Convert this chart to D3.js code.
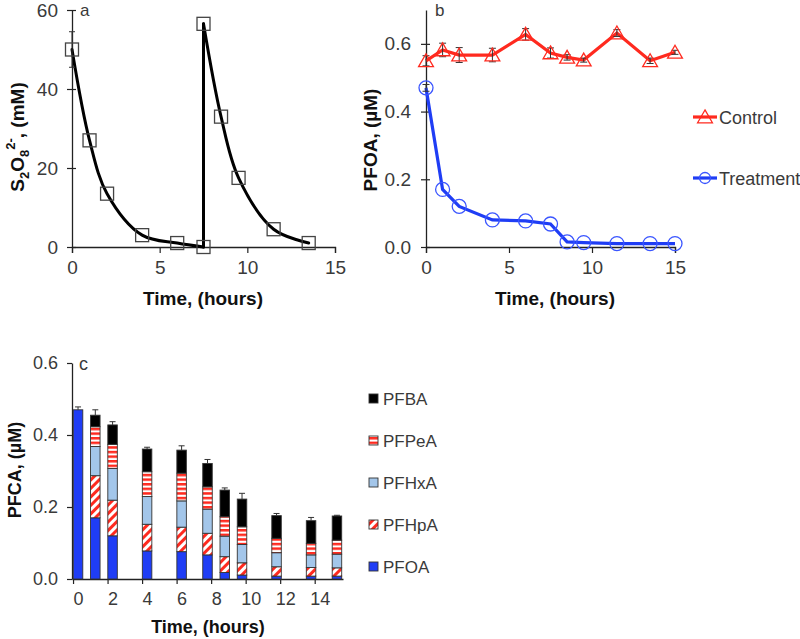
<!DOCTYPE html>
<html><head><meta charset="utf-8">
<script src="https://cdn.jsdelivr.net/npm/d3@7"></script>
<style>
body{margin:0;background:#fff;}
svg{display:block;font-family:"Liberation Sans",Arial,Helvetica,sans-serif;}
.tick text{fill:#3a3a3a;}
</style></head>
<body>
<svg id="chart" width="800" height="639"></svg>
<script>
// ---------- Data ----------
// Panel a: persulfate
const timesA = [0, 1, 2, 4, 6, 7.5, 7.5, 8.5, 9.5, 11.5, 13.5];
const persulfate = [50, 27, 13.5, 3, 1, 0, 56.5, 33, 17.5, 4.5, 1];
const persulfateErr = [4.5, 0, 0, 0, 0, 0, 0, 0, 0, 0, 0];
const ticksA_x = [0, 5, 10, 15];
const ticksA_y = [0, 20, 40, 60];

// Panel b: PFOA control vs treatment
const timesB = [0, 1, 2, 4, 6, 7.5, 8.5, 9.5, 11.5, 13.5, 15];
const control = [0.55, 0.582, 0.567, 0.567, 0.628, 0.573, 0.56, 0.552, 0.632, 0.55, 0.575];
const controlErr = [0.015, 0.02, 0.022, 0.02, 0.017, 0.015, 0.008, 0.006, 0.01, 0.008, 0.006];
const treatment = [0.47, 0.17, 0.12, 0.08, 0.077, 0.068, 0.015, 0.013, 0.01, 0.01, 0.01];
const treatmentErr = [0.01, 0, 0, 0, 0, 0, 0, 0, 0, 0, 0];
const ticksB_x = [0, 5, 10, 15];
const ticksB_y = [0, 0.2, 0.4, 0.6];
const seriesB = ["Control", "Treatment"];

// Panel c: PFCA stacked bars
const timesC = [0, 1, 2, 4, 6, 7.5, 8.5, 9.5, 11.5, 13.5, 15];
const PFOA  = [0.47, 0.170, 0.120, 0.078, 0.076, 0.067, 0.018, 0.011, 0.008, 0.008, 0.008];
const PFHpA = [0, 0.117, 0.099, 0.074, 0.068, 0.060, 0.044, 0.034, 0.026, 0.024, 0.023];
const PFHxA = [0, 0.081, 0.088, 0.077, 0.073, 0.067, 0.057, 0.051, 0.039, 0.035, 0.038];
const PFPeA = [0, 0.055, 0.067, 0.069, 0.077, 0.062, 0.054, 0.049, 0.040, 0.032, 0.039];
const PFBA  = [0, 0.032, 0.054, 0.063, 0.064, 0.065, 0.074, 0.077, 0.063, 0.063, 0.067];
const totalErr = [0.008, 0.015, 0.009, 0.005, 0.012, 0.011, 0.006, 0.016, 0.006, 0.009, 0.002];
const speciesC = ["PFOA", "PFHpA", "PFHxA", "PFPeA", "PFBA"];
const legendOrderC = ["PFBA", "PFPeA", "PFHxA", "PFHpA", "PFOA"];
const ticksC_x = [0, 2, 4, 6, 8, 10, 12, 14];
const ticksC_y = [0, 0.2, 0.4, 0.6];

// ---------- Setup ----------
const svg = d3.select("#chart");
const defs = svg.append("defs");
const RED = "#ff2a1f", BLUE = "#1f3df5";

const pH = defs.append("pattern").attr("id","hstripe").attr("patternUnits","userSpaceOnUse")
  .attr("width",8).attr("height",4.6);
pH.append("rect").attr("width",8).attr("height",4.6).attr("fill","#fff");
pH.append("rect").attr("width",8).attr("height",2.5).attr("fill",RED);

const pD = defs.append("pattern").attr("id","dstripe").attr("patternUnits","userSpaceOnUse")
  .attr("width",6).attr("height",6).attr("patternTransform","rotate(45)");
pD.append("rect").attr("width",6).attr("height",6).attr("fill","#fff");
pD.append("rect").attr("width",3).attr("height",6).attr("fill",RED);

const fills = {PFOA: BLUE, PFHpA: "url(#dstripe)", PFHxA: "#a3c6ea", PFPeA: "url(#hstripe)", PFBA: "#000"};

const TXT = "#3a3a3a";
function styleAxis(g, fs){
  g.selectAll(".domain").attr("stroke","#222").attr("stroke-width",1.3);
  g.selectAll(".tick line").attr("stroke","#222").attr("stroke-width",1.2);
  g.selectAll(".tick text").attr("font-size",fs).attr("fill",TXT);
}

// ---------- Panel a ----------
const xA = d3.scaleLinear().domain([0,15]).range([72,335]);
const yA = d3.scaleLinear().domain([0,60]).range([247,10]);
{
  const gx = svg.append("g").attr("transform","translate(0,247)")
    .call(d3.axisBottom(xA).tickValues(ticksA_x).tickSize(6).tickPadding(8).tickFormat(d3.format("d")));
  styleAxis(gx,19);
  const gy = svg.append("g").attr("transform","translate(72,0)")
    .call(d3.axisLeft(yA).tickValues(ticksA_y).tickSizeInner(4).tickSizeOuter(0).tickPadding(10).tickFormat(d3.format("d")));
  styleAxis(gy,19);
  gy.selectAll(".tick line").attr("x2",4).attr("x1",-5);

  // split into the two dosing periods (time repeats at the re-dose)
  const pts = persulfate.map((v,i)=>[timesA[i], v]);
  const cut = timesA.findIndex((t,i)=> i>0 && t===timesA[i-1]);
  const seg1 = pts.slice(0,cut), seg2 = pts.slice(cut), jump = pts.slice(cut-1,cut+1);
  const smooth = d3.line().x(d=>xA(d[0])).y(d=>yA(d[1])).curve(d3.curveCatmullRom.alpha(0.5));
  const straight = d3.line().x(d=>xA(d[0])).y(d=>yA(d[1]));
  [[seg1,smooth],[jump,straight],[seg2,smooth]].forEach(([s,l])=>
    svg.append("path").datum(s).attr("d",l).attr("fill","none").attr("stroke","#000")
      .attr("stroke-width",3).attr("stroke-linejoin","round").attr("stroke-linecap","round"));
  persulfate.forEach((v,i)=>{
    const e = persulfateErr[i]; if(!e) return;
    const x = xA(timesA[i]);
    svg.append("line").attr("x1",x).attr("x2",x).attr("y1",yA(v-e)).attr("y2",yA(v+e)).attr("stroke","#333").attr("stroke-width",1);
    [v-e,v+e].forEach(w=>svg.append("line").attr("x1",x-3).attr("x2",x+3).attr("y1",yA(w)).attr("y2",yA(w)).attr("stroke","#333"));
  });
  svg.append("g").selectAll("rect").data(persulfate).join("rect")
    .attr("x",(d,i)=>xA(timesA[i])-6.5).attr("y",d=>yA(d)-6.5).attr("width",13).attr("height",13)
    .attr("fill","none").attr("stroke","#444").attr("stroke-width",1.3);

  svg.append("text").attr("x",80).attr("y",16).attr("font-size",17).attr("fill",TXT).text("a");
  const t = svg.append("text").attr("transform","translate(24,137) rotate(-90)").attr("text-anchor","middle")
    .attr("font-size",19).attr("font-weight","bold").attr("fill","#111");
  t.append("tspan").text("S");
  t.append("tspan").attr("font-size",13).attr("dy",5).text("2");
  t.append("tspan").attr("dy",-5).text("O");
  t.append("tspan").attr("font-size",13).attr("dy",5).text("8");
  t.append("tspan").attr("font-size",13).attr("dy",-14).text("2-");
  t.append("tspan").attr("dy",9).text(", (mM)");
  svg.append("text").attr("x",203).attr("y",305).attr("text-anchor","middle").attr("font-size",19)
    .attr("font-weight","bold").attr("fill","#111").text("Time, (hours)");
}

// ---------- Panel b ----------
const xB = d3.scaleLinear().domain([0,15]).range([426,675]);
const yB = d3.scaleLinear().domain([0,0.7]).range([247,10]);
{
  const gx = svg.append("g").attr("transform","translate(0,247)")
    .call(d3.axisBottom(xB).tickValues(ticksB_x).tickSize(6).tickPadding(8).tickFormat(d3.format("d")));
  styleAxis(gx,19);
  const gy = svg.append("g").attr("transform","translate(426,0)")
    .call(d3.axisLeft(yB).tickValues(ticksB_y).tickSizeInner(4).tickSizeOuter(0).tickPadding(11).tickFormat(d3.format(".1f")));
  styleAxis(gy,19);
  gy.selectAll(".tick line").attr("x2",4).attr("x1",-5);

  const lineB = d3.line().x((d,i)=>xB(timesB[i])).y(d=>yB(d));
  const drawErr = (vals, errs) => vals.forEach((v,i)=>{
    const e = errs[i]; if(!e) return;
    const x = xB(timesB[i]);
    svg.append("line").attr("x1",x).attr("x2",x).attr("y1",yB(v-e)).attr("y2",yB(v+e)).attr("stroke","#333").attr("stroke-width",1);
    [v-e,v+e].forEach(w=>svg.append("line").attr("x1",x-3.5).attr("x2",x+3.5).attr("y1",yB(w)).attr("y2",yB(w)).attr("stroke","#333").attr("stroke-width",1));
  });
  svg.append("path").datum(control).attr("d",lineB).attr("fill","none").attr("stroke",RED).attr("stroke-width",3.2);
  svg.append("path").datum(treatment).attr("d",lineB).attr("fill","none").attr("stroke",BLUE).attr("stroke-width",3.2);
  drawErr(control, controlErr);
  drawErr(treatment, treatmentErr);
  const tri = d3.symbol().type(d3.symbolTriangle).size(95);
  svg.append("g").selectAll("path").data(control).join("path")
    .attr("d",tri).attr("transform",(d,i)=>`translate(${xB(timesB[i])},${yB(d)+1.5})`)
    .attr("fill","none").attr("stroke",RED).attr("stroke-width",1.3);
  svg.append("g").selectAll("circle").data(treatment).join("circle")
    .attr("cx",(d,i)=>xB(timesB[i])).attr("cy",d=>yB(d)).attr("r",7)
    .attr("fill","none").attr("stroke","#3a55ff").attr("stroke-width",1.3);

  svg.append("text").attr("x",435).attr("y",16).attr("font-size",17).attr("fill",TXT).text("b");
  svg.append("text").attr("transform","translate(377,140) rotate(-90)").attr("text-anchor","middle")
    .attr("font-size",19).attr("font-weight","bold").attr("fill","#111").text("PFOA, (µM)");
  svg.append("text").attr("x",555).attr("y",305).attr("text-anchor","middle").attr("font-size",19)
    .attr("font-weight","bold").attr("fill","#111").text("Time, (hours)");

  const lg = svg.append("g");
  seriesB.forEach((s,i)=>{
    const y = 117 + i*61;
    const col = i===0 ? RED : BLUE;
    lg.append("line").attr("x1",693).attr("x2",717).attr("y1",y).attr("y2",y).attr("stroke",col).attr("stroke-width",3.2);
    if(i===0) lg.append("path").attr("d",tri).attr("transform",`translate(705,${y+1.5})`).attr("fill","none").attr("stroke",RED).attr("stroke-width",1.3);
    else lg.append("circle").attr("cx",705).attr("cy",y).attr("r",5.5).attr("fill","none").attr("stroke","#3a55ff").attr("stroke-width",1.3);
    lg.append("text").attr("x",719).attr("y",y+7).attr("font-size",18).attr("fill",TXT).text(s);
  });
}

// ---------- Panel c ----------
const xC = d3.scaleLinear().domain([-0.35,15.35]).range([72,343]);
const yC = d3.scaleLinear().domain([0,0.6]).range([579,363]);
{
  const gx = svg.append("g").attr("transform","translate(0,579)")
    .call(d3.axisBottom(xC).tickValues(ticksC_x).tickSizeInner(5).tickSizeOuter(0).tickPadding(8).tickFormat(d3.format("d")));
  styleAxis(gx,18);
  gx.selectAll(".tick line").attr("transform","translate(-5,0)");
  const gy = svg.append("g").attr("transform","translate(72,0)")
    .call(d3.axisLeft(yC).tickValues(ticksC_y).tickSizeInner(5).tickSizeOuter(0).tickPadding(9).tickFormat(d3.format(".1f")));
  styleAxis(gy,18);

  const table = timesC.map((t,i)=>({t, PFOA:PFOA[i], PFHpA:PFHpA[i], PFHxA:PFHxA[i], PFPeA:PFPeA[i], PFBA:PFBA[i], err: totalErr[i]}));
  const stack = d3.stack().keys(speciesC)(table);
  const bw = 9.5;
  svg.append("g").selectAll("g").data(stack).join("g")
    .attr("fill", d=>fills[d.key])
    .selectAll("rect").data(d=>d.filter(s=>s[1]-s[0]>0)).join("rect")
    .attr("x", d=>xC(d.data.t)-bw/2).attr("width", bw)
    .attr("y", d=>yC(d[1])).attr("height", d=>yC(d[0])-yC(d[1]))
    .attr("stroke","#333").attr("stroke-width",0.9);
  table.forEach(d=>{
    const top = d.PFOA+d.PFHpA+d.PFHxA+d.PFPeA+d.PFBA;
    const x = xC(d.t);
    svg.append("line").attr("x1",x).attr("x2",x).attr("y1",yC(top)).attr("y2",yC(top+d.err)).attr("stroke","#333").attr("stroke-width",1);
    svg.append("line").attr("x1",x-3).attr("x2",x+3).attr("y1",yC(top+d.err)).attr("y2",yC(top+d.err)).attr("stroke","#333").attr("stroke-width",1);
  });

  svg.append("text").attr("x",79).attr("y",370).attr("font-size",18).attr("fill",TXT).text("c");
  svg.append("text").attr("transform","translate(21,470) rotate(-90)").attr("text-anchor","middle")
    .attr("font-size",18).attr("font-weight","bold").attr("fill","#111").text("PFCA, (µM)");
  svg.append("text").attr("x",208).attr("y",633).attr("text-anchor","middle").attr("font-size",18)
    .attr("font-weight","bold").attr("fill","#111").text("Time, (hours)");

  const lg = svg.append("g");
  legendOrderC.forEach((s,i)=>{
    const y = 399 + i*42;
    lg.append("rect").attr("x",369).attr("y",y-5).attr("width",9).attr("height",9)
      .attr("fill",fills[s]).attr("stroke","#333").attr("stroke-width",0.9);
    lg.append("text").attr("x",383).attr("y",y+6).attr("font-size",17).attr("fill",TXT).text(s);
  });
}
</script>
</body></html>
